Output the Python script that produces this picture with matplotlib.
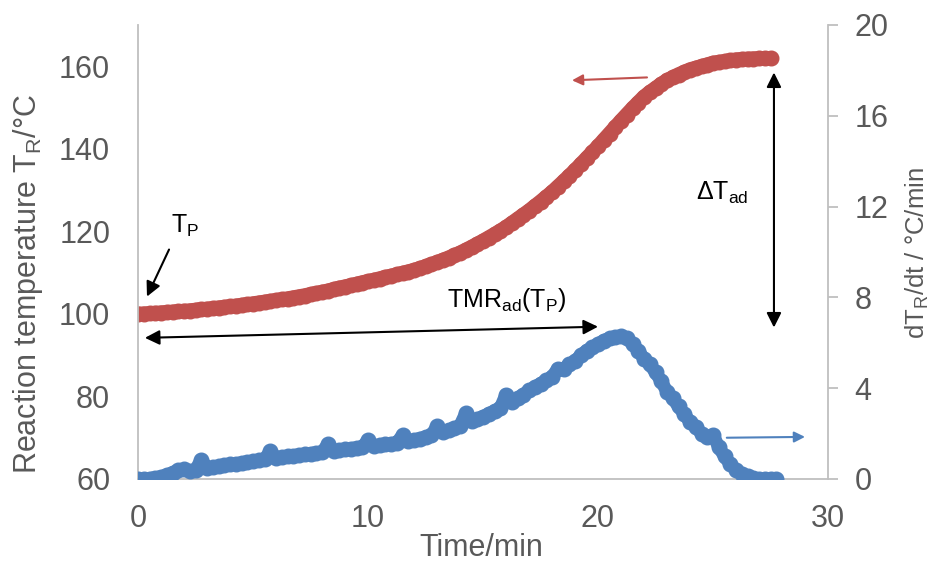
import matplotlib
matplotlib.use("Agg")
import matplotlib.pyplot as plt

plt.rcParams['font.family'] = ['Liberation Sans', 'DejaVu Sans']
plt.rcParams['mathtext.default'] = 'regular'

# time axis in minutes, sampled every 15 s
time = [
    0.0, 0.25, 0.5, 0.75, 1.0, 1.25, 1.5, 1.75, 2.0, 2.25, 2.5, 2.75,
    3.0, 3.25, 3.5, 3.75, 4.0, 4.25, 4.5, 4.75, 5.0, 5.25, 5.5, 5.75,
    6.0, 6.25, 6.5, 6.75, 7.0, 7.25, 7.5, 7.75, 8.0, 8.25, 8.5, 8.75,
    9.0, 9.25, 9.5, 9.75, 10.0, 10.25, 10.5, 10.75, 11.0, 11.25, 11.5, 11.75,
    12.0, 12.25, 12.5, 12.75, 13.0, 13.25, 13.5, 13.75, 14.0, 14.25, 14.5, 14.75,
    15.0, 15.25, 15.5, 15.75, 16.0, 16.25, 16.5, 16.75, 17.0, 17.25, 17.5, 17.75,
    18.0, 18.25, 18.5, 18.75, 19.0, 19.25, 19.5, 19.75, 20.0, 20.25, 20.5, 20.75,
    21.0, 21.25, 21.5, 21.75, 22.0, 22.25, 22.5, 22.75, 23.0, 23.25, 23.5, 23.75,
    24.0, 24.25, 24.5, 24.75, 25.0, 25.25, 25.5, 25.75, 26.0, 26.25, 26.5, 26.75,
    27.0, 27.25, 27.5, 27.75,
]

# reaction temperature T_R (degC), left axis
temp_r = [
    100.0, 100.05, 100.1, 100.2, 100.3, 100.4, 100.5, 100.6,
    100.7, 100.8, 100.95, 101.1, 101.2, 101.35, 101.5, 101.65,
    101.8, 101.95, 102.15, 102.3, 102.5, 102.7, 102.9, 103.1,
    103.3, 103.5, 103.7, 103.95, 104.2, 104.45, 104.75, 105.0,
    105.3, 105.6, 105.95, 106.3, 106.6, 106.9, 107.25, 107.6,
    107.9, 108.2, 108.55, 108.9, 109.2, 109.55, 109.9, 110.25,
    110.6, 111.05, 111.5, 112.0, 112.5, 113.05, 113.6, 114.2,
    114.8, 115.5, 116.2, 116.95, 117.7, 118.5, 119.3, 120.15,
    121.0, 122.0, 123.0, 124.0, 125.0, 126.1, 127.2, 128.35,
    129.5, 130.8, 132.1, 133.45, 134.8, 136.25, 137.7, 139.15,
    140.6, 142.15, 143.7, 145.25, 146.8, 148.3, 149.8, 151.2,
    152.6, 153.7, 154.7, 155.7, 156.6, 157.3, 158.0, 158.6,
    159.2, 159.6, 160.0, 160.4, 160.8, 161.0, 161.2, 161.4,
    161.6, 161.7, 161.8, 161.85, 161.9, 161.9, 161.9,
]

# heat rate dT_R/dt (degC/min), right axis
rate = [
    0.0, 0.0, 0.02, 0.05, 0.1, 0.18, 0.27, 0.38,
    0.42, 0.36, 0.4, 0.85, 0.5, 0.52, 0.56, 0.6,
    0.64, 0.67, 0.71, 0.75, 0.79, 0.83, 0.87, 1.22,
    0.94, 0.97, 1.0, 1.03, 1.06, 1.09, 1.12, 1.15,
    1.18, 1.52, 1.25, 1.28, 1.31, 1.34, 1.37, 1.40,
    1.72, 1.46, 1.49, 1.52, 1.56, 1.60, 1.92, 1.68,
    1.72, 1.78, 1.85, 1.92, 2.32, 2.08, 2.16, 2.25,
    2.35, 2.9, 2.55, 2.65, 2.75, 2.88, 3.0, 3.12,
    3.72, 3.4, 3.55, 3.72, 3.9, 4.05, 4.2, 4.35,
    4.5, 4.85, 4.85, 5.05, 5.2, 5.45, 5.65, 5.8,
    5.95, 6.1, 6.2, 6.25, 6.3, 6.2, 5.95, 5.65,
    5.3, 5.05, 4.7, 4.3, 3.85, 3.55, 3.2, 2.85,
    2.52, 2.3, 2.0, 1.85, 1.95, 1.4, 1.0, 0.65,
    0.4, 0.22, 0.12, 0.05, 0.0, 0.0, 0.0, 0.0,
]

red = '#C0504D'
blue = '#4F81BD'
grey = '#595959'
axis_grey = '#BFBFBF'
ms = 10.5

fig = plt.figure(figsize=(9.32, 5.62), dpi=100)
ax1 = fig.add_axes([138/932, 1-479/562, 690/932, 454/562])
ax2 = ax1.twinx()

ax1.plot(time[:len(temp_r)], temp_r, '-o', ms=ms, lw=ms, color=red, mec=red,
         solid_capstyle='round', solid_joinstyle='round')
ax2.plot(time, rate, '-o', ms=ms, lw=ms * 0.9, color=blue, mec=blue,
         solid_capstyle='round', solid_joinstyle='round')

ax1.set_xlim(0, 30)
ax1.set_ylim(60, 170)
ax2.set_ylim(0, 20)
ax1.set_xticks([0, 10, 20, 30])
ax1.set_yticks([60, 80, 100, 120, 140, 160])
ax2.set_yticks([0, 4, 8, 12, 16, 20])

for ax in (ax1, ax2):
    ax.spines['top'].set_visible(False)
    for s in ('left', 'right', 'bottom'):
        ax.spines[s].set_color(axis_grey)
        ax.spines[s].set_linewidth(1.3)
ax1.spines['right'].set_visible(False)
ax2.spines['left'].set_visible(False)
ax2.spines['bottom'].set_visible(False)

ax1.tick_params(axis='y', length=0, pad=20, labelsize=22, labelcolor=grey)
ax1.tick_params(axis='x', length=0, pad=18, labelsize=22, labelcolor=grey)
ax2.tick_params(axis='y', length=7, width=1.3, color=axis_grey, pad=12,
                labelsize=22, labelcolor=grey)

fig.text(28/932, 1-284/562, 'Reaction temperature T$_{R}$/°C', rotation=90,
         ha='center', va='center', fontsize=22, color=grey)
fig.text(917/932, 1-253/562, 'dT$_{R}$/dt / °C/min', rotation=90,
         ha='center', va='center', fontsize=18.5, color=grey)
fig.text(481/932, 1-548/562, 'Time/min', ha='center', va='center',
         fontsize=22, color=grey)

# annotations, positioned in left-axis data coordinates
tr = ax1.transData
ax2.text(2.04, 121.4, 'T$_{P}$', transform=tr, ha='center', va='center', fontsize=18)
ax2.annotate('', xy=(0.39, 104.2), xytext=(1.35, 115.6), xycoords=tr, textcoords=tr,
             arrowprops=dict(arrowstyle='-|>', mutation_scale=22, lw=1.5,
                             color='black', shrinkA=0, shrinkB=0))

ax2.text(16.04, 103.4, 'TMR$_{ad}$(T$_{P}$)', transform=tr, ha='center', va='center',
         fontsize=18)
ax2.annotate('', xy=(20.0, 96.9), xytext=(0.3, 94.2), xycoords=tr, textcoords=tr,
             arrowprops=dict(arrowstyle='<|-|>', mutation_scale=22, lw=1.5,
                             color='black', shrinkA=0, shrinkB=0))

ax2.text(25.4, 129.4, 'ΔT$_{ad}$', transform=tr, ha='center', va='center', fontsize=18)
ax2.annotate('', xy=(27.65, 158.5), xytext=(27.65, 96.7), xycoords=tr, textcoords=tr,
             arrowprops=dict(arrowstyle='<|-|>', mutation_scale=22, lw=1.5,
                             color='black', shrinkA=0, shrinkB=0))

ax2.annotate('', xy=(18.87, 156.6), xytext=(22.13, 157.3), xycoords=tr, textcoords=tr,
             arrowprops=dict(arrowstyle='-|>', mutation_scale=16, lw=1.5,
                             color=red, shrinkA=0, shrinkB=0))
ax2.annotate('', xy=(29.0, 70.2), xytext=(25.6, 70.0), xycoords=tr, textcoords=tr,
             arrowprops=dict(arrowstyle='-|>', mutation_scale=16, lw=1.5,
                             color=blue, shrinkA=0, shrinkB=0), annotation_clip=False)

fig.savefig('out.png', dpi=100)
